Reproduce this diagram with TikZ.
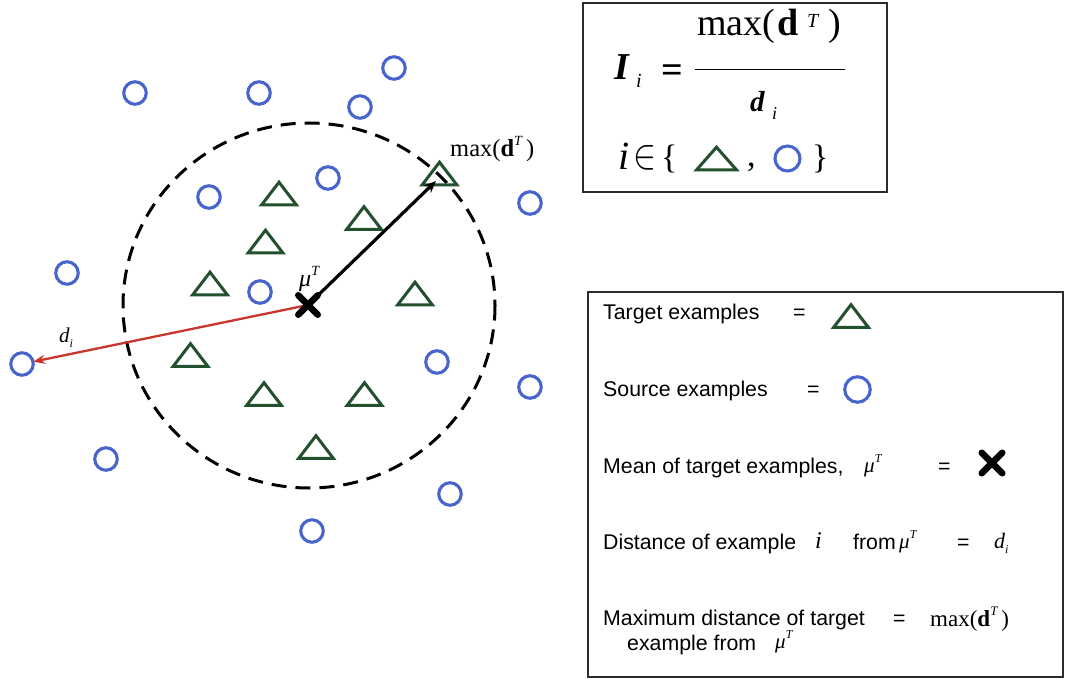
\documentclass[tikz,border=0pt]{standalone}
\usepackage{fontspec}
\setmainfont{Liberation Sans}
\newfontfamily\tms{Liberation Serif}
\usetikzlibrary{arrows.meta,shapes.misc}
\definecolor{srcblue}{RGB}{72,100,205}
\definecolor{tgtgreen}{RGB}{35,80,45}
\definecolor{redarr}{RGB}{200,55,45}
\definecolor{boxgray}{RGB}{45,45,45}
\begin{document}
\begin{tikzpicture}[x=1pt,y=-1pt,
  src/.style={circle,draw=srcblue,line width=3.1pt,minimum size=22.5pt,inner sep=0pt,outer sep=0pt},
  tri/.pic={\draw[tgtgreen,line width=3pt,line join=miter] (-17.3,11.3) -- (0,-11.3) -- (17.3,11.3) -- cycle;},
  xmark/.style={cross out,draw=black,line width=6.5pt,minimum size=13pt,inner sep=0pt,line cap=round},
  lbl/.style={anchor=base west,inner sep=0pt,font=\fontsize{21.3}{24}\selectfont},
  ser/.style={anchor=base west,inner sep=0pt},
  boxframe/.style={draw=boxgray,line width=2pt},
  dashring/.style={draw=black,line width=3pt,dash pattern=on 15pt off 9pt}
]
\fill[white] (0,0) rectangle (1065,679);
\useasboundingbox (0,0) rectangle (1065,679);

% dashed ring
\draw[dashring] (309,305.5) ellipse [x radius=186, y radius=182.5];

% source examples (circles)
\node[src] (c1) at (135,93) {};
\node[src] (c2) at (259,93) {};
\node[src] (c3) at (394,68) {};
\node[src] (c4) at (360,107) {};
\node[src] (c5) at (209,197) {};
\node[src] (c6) at (328,178) {};
\node[src] (c7) at (530,203) {};
\node[src] (c8) at (67,273) {};
\node[src] (c9) at (260,292) {};
\node[src] (c10) at (22,364) {};
\node[src] (c11) at (437,362) {};
\node[src] (c12) at (530,387) {};
\node[src] (c13) at (106,459) {};
\node[src] (c14) at (450,494) {};
\node[src] (c15) at (312,531) {};

% target examples (triangles)
\foreach \n/\px/\py in {t1/279/193.5, t2/364/218, t3/265.5/241.5, t4/210/283.5, t5/415/293.5,
                        t6/190.5/355, t7/264/394, t8/364.5/394, t9/316/447, tmax/439.5/173.5}{
  \coordinate (\n) at (\px,\py);
  \pic at (\n) {tri};
}

% mean and arrows
\coordinate (mu) at (308,305);
\coordinate (tmaxtip) at (436,181);
\draw[redarr,line width=2.3pt,-{Stealth[length=12pt,width=9pt]}] (mu) -- (c10);
\draw[black,line width=3.2pt,-{Stealth[length=12pt,width=10pt]}] (mu) -- (tmaxtip);
\node[xmark] (muX) at (mu) {};

% labels in diagram
\node[ser,font=\tms\itshape\fontsize{24}{26}\selectfont] (mulab) at (299,286) {μ\raisebox{0.45em}{\fontsize{14}{15}\selectfont T}};
\node[ser,font=\tms\itshape\fontsize{21}{24}\selectfont] (dlab) at (59,342) {d\raisebox{-0.25em}{\fontsize{12}{13}\selectfont i}};
\node[ser,font=\tms\fontsize{24.5}{26}\selectfont] (maxlab) at (450,157) {max(\textbf{d}\raisebox{0.45em}{\itshape\fontsize{14}{15}\selectfont T}\,)};

% formula box
\draw[boxframe] (583,3) rectangle (887,192);
\node[ser,font=\tms\bfseries\itshape\fontsize{38}{40}\selectfont] (fI) at (614,80) {I};
\node[ser,font=\tms\itshape\fontsize{20}{22}\selectfont] (fIi) at (636,88) {i};
\node[ser,font=\tms\bfseries\fontsize{38}{40}\selectfont] (feq) at (661,83) {=};
\draw[line width=1.8pt] (695,69.5) -- (845,69.5);
\node[ser,font=\tms\fontsize{38}{40}\selectfont] (fmax) at (697,35.5) {max(};
\node[ser,font=\tms\bfseries\fontsize{38}{40}\selectfont] (fd) at (777,35.5) {d};
\node[ser,font=\tms\itshape\fontsize{20}{22}\selectfont] (fT) at (807,28) {T};
\node[ser,font=\tms\fontsize{38}{40}\selectfont] (fpar) at (828,35.5) {)};
\node[ser,font=\tms\bfseries\itshape\fontsize{29}{30}\selectfont] (fden) at (750,112) {d};
\node[ser,font=\tms\itshape\fontsize{18}{19}\selectfont] (fdeni) at (772,120) {i};
\node[ser,font=\tms\itshape\fontsize{40}{42}\selectfont] (fi2) at (618,170) {i};
\node[ser] (fin) at (633,168) {\resizebox{23pt}{23pt}{$\in$}};
\node[ser,font=\tms\fontsize{34}{35}\selectfont] (fbr1) at (661,169) {\{};
\pic[xscale=1.15] at (716.5,158.5) {tri};
\node[ser,font=\tms\fontsize{34}{35}\selectfont] (fcom) at (747,167) {,};
\node[src,minimum size=25pt] (fcirc) at (787.5,158.5) {};
\node[ser,font=\tms\fontsize{34}{35}\selectfont] (fbr2) at (812,169) {\}};

% legend box
\draw[boxframe] (588,292) rectangle (1063,677);
\node[lbl] (l1) at (603,319) {Target examples};
\node[lbl] (l1eq) at (793,319) {=};
\pic at (851,316) {tri};

\node[lbl] (l2) at (603,396) {Source examples};
\node[lbl] (l2eq) at (807,396) {=};
\node[src,minimum size=25.5pt] (lcirc) at (857.5,389.5) {};

\node[lbl] (l3) at (603,473) {Mean of target examples,};
\node[ser,font=\tms\itshape\fontsize{21}{23}\selectfont] (l3mu) at (864,472) {μ\raisebox{0.45em}{\fontsize{12}{13}\selectfont T}};
\node[lbl] (l3eq) at (938,473) {=};
\node[xmark,minimum size=14pt] (lx) at (992,463) {};

\node[lbl] (l4) at (603,549) {Distance of example};
\node[ser,font=\tms\itshape\fontsize{24}{26}\selectfont] (l4i) at (815,548) {i};
\node[lbl] (l4f) at (853,549) {from};
\node[ser,font=\tms\itshape\fontsize{21}{23}\selectfont] (l4mu) at (899,548) {μ\raisebox{0.45em}{\fontsize{12}{13}\selectfont T}};
\node[lbl] (l4eq) at (957,549) {=};
\node[ser,font=\tms\itshape\fontsize{22}{24}\selectfont] (l4d) at (994,548) {d\raisebox{-0.25em}{\fontsize{12}{13}\selectfont i}};

\node[lbl] (l5) at (603,625) {Maximum distance of target};
\node[lbl] (l5b) at (627,650) {example from};
\node[ser,font=\tms\itshape\fontsize{21}{23}\selectfont] (l5mu) at (775,648) {μ\raisebox{0.45em}{\fontsize{12}{13}\selectfont T}};
\node[lbl] (l5eq) at (893,625) {=};
\node[ser,font=\tms\fontsize{23}{25}\selectfont] (l5max) at (930,626) {max(\textbf{d}\raisebox{0.45em}{\itshape\fontsize{13}{14}\selectfont T}\,)};
\end{tikzpicture}
\end{document}
